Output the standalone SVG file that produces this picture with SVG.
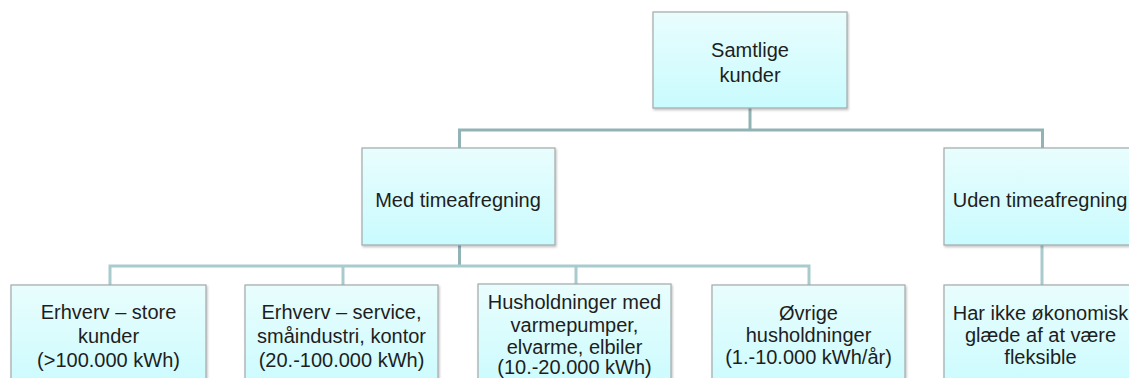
<svg xmlns="http://www.w3.org/2000/svg" width="1129" height="378" viewBox="0 0 1129 378">
  <defs>
    <linearGradient id="fill" x1="0" y1="0" x2="0" y2="1">
      <stop offset="0" stop-color="#e9fdfd"/>
      <stop offset="1" stop-color="#c9fbfe"/>
    </linearGradient>
    <filter id="sh" x="-10%" y="-10%" width="120%" height="120%">
      <feDropShadow dx="1" dy="1.5" stdDeviation="1" flood-color="#000" flood-opacity="0.25"/>
    </filter>
    <style>
      .box { fill: url(#fill); stroke: #a3a9a9; stroke-width: 1.2; filter: url(#sh); }
      .t { font-family: "Liberation Sans", Arial, sans-serif; font-size: 20px; fill: #1e1e1e; text-anchor: middle; }
      .c1 { fill: none; stroke: #92b3b6; stroke-width: 3; }
      .c2 { fill: none; stroke: #a8cbce; stroke-width: 3; }
    </style>
  </defs>
  <rect width="1129" height="378" fill="#ffffff"/>
  <g id="connectors">
    <path class="c1" d="M750 108 V130 M459.5 148 V130 H1042.5 V148"/>
    <path class="c1" d="M459.5 245 V266"/>
    <path class="c2" d="M110 285 V266 H809 V285 M343 266 V285 M576 266 V285 M1042 245 V285"/>
  </g>
  <g id="n-samtlige">
    <rect class="box" x="653" y="12" width="194" height="96"/>
    <text class="t" x="750" y="57">Samtlige</text>
    <text class="t" x="750" y="82">kunder</text>
  </g>
  <g id="n-med">
    <rect class="box" x="362" y="148" width="193" height="97"/>
    <text class="t" x="458" y="207">Med timeafregning</text>
  </g>
  <g id="n-uden">
    <rect class="box" x="944" y="148" width="193" height="97"/>
    <text class="t" x="1040" y="207">Uden timeafregning</text>
  </g>
  <g id="n-erhverv-store">
    <rect class="box" x="11" y="285" width="195" height="110"/>
    <text class="t" x="108.5" y="319">Erhverv – store</text>
    <text class="t" x="108.5" y="343">kunder</text>
    <text class="t" x="108.5" y="367">(&gt;100.000 kWh)</text>
  </g>
  <g id="n-erhverv-service">
    <rect class="box" x="245" y="285" width="193" height="110"/>
    <text class="t" x="341.5" y="319">Erhverv – service,</text>
    <text class="t" x="341.5" y="343">småindustri, kontor</text>
    <text class="t" x="341.5" y="367">(20.-100.000 kWh)</text>
  </g>
  <g id="n-husholdninger-med">
    <rect class="box" x="478" y="284" width="193" height="110"/>
    <text class="t" x="574.5" y="309">Husholdninger med</text>
    <text class="t" x="574.5" y="332">varmepumper,</text>
    <text class="t" x="574.5" y="354">elvarme, elbiler</text>
    <text class="t" x="574.5" y="374">(10.-20.000 kWh)</text>
  </g>
  <g id="n-ovrige">
    <rect class="box" x="712" y="285" width="193" height="110"/>
    <text class="t" x="808.5" y="320">Øvrige</text>
    <text class="t" x="808.5" y="342">husholdninger</text>
    <text class="t" x="808.5" y="364">(1.-10.000 kWh/år)</text>
  </g>
  <g id="n-har-ikke">
    <rect class="box" x="944" y="285" width="193" height="110"/>
    <text class="t" x="1040.5" y="320">Har ikke økonomisk</text>
    <text class="t" x="1040.5" y="342">glæde af at være</text>
    <text class="t" x="1040.5" y="364">fleksible</text>
  </g>
</svg>
